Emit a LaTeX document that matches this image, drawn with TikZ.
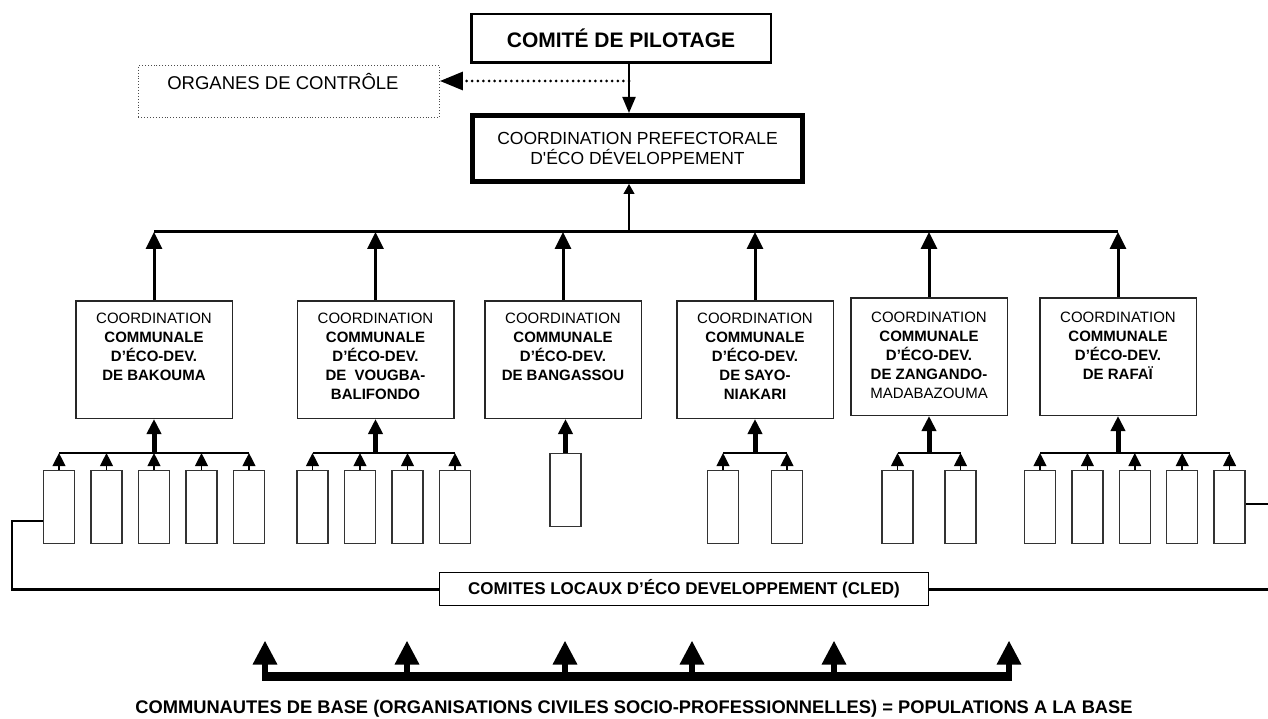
\documentclass[tikz,border=0pt]{standalone}
\usepackage{fontspec}
\setmainfont{Liberation Sans}
\usetikzlibrary{arrows.meta}

% text block of a communal coordination box, top aligned
\newcommand{\commtext}[2][12pt]{%
  \begin{minipage}[t][117.5pt][t]{156.5pt}\centering\vspace*{#1}#2\end{minipage}}

\tikzset{
  comm/.style={draw=black!85, line width=1.5pt, inner sep=0pt, anchor=north,
    font=\fontsize{15}{19.1}\selectfont},
  leaf/.style={draw=black!80, line width=1.4pt, minimum width=31pt,
    minimum height=73pt, inner sep=0pt, anchor=north},
  busline/.style={line width=3pt},
  subbus/.style={line width=1.5pt},
  up/.style={-{Triangle[width=16pt,length=17pt]}, line width=3pt},
  leafup/.style={-{Triangle[width=12.7pt,length=13pt]}, line width=1.5pt},
  thickup/.style={-{Triangle[width=14pt,length=15pt]}, line width=5pt},
  baseup/.style={-{Triangle[width=23pt,length=24pt]}, line width=6pt},
  thinlink/.style={line width=1.5pt},
  thicklink/.style={line width=3pt},
}

\begin{document}
\begin{tikzpicture}[x=1pt,y=-1pt]
\useasboundingbox (0,0) rectangle (1268,719);

% ---------- top of the hierarchy ----------
\node[draw, line width=2.5pt, minimum width=299.5pt, minimum height=48.5pt,
  inner sep=0pt, font=\bfseries\fontsize{21}{24}\selectfont]
  (comite) at (621,38.5) {COMITÉ DE PILOTAGE};

\node[draw=black!70, dotted, line width=0.9pt, anchor=north west,
  minimum width=301pt, minimum height=52pt, inner sep=0pt,
  text height=24.5pt, text depth=27.5pt, font=\fontsize{18.5}{21}\selectfont]
  (organes) at (138,65) {ORGANES DE CONTRÔLE\hspace*{12pt}};

\node[draw, line width=5pt, minimum width=330pt, minimum height=66pt,
  inner sep=0pt, align=center, font=\fontsize{17.5}{20}\selectfont]
  (pref) at (637.5,148.5) {COORDINATION PREFECTORALE\\D\textquotesingle ÉCO DÉVELOPPEMENT};

\coordinate (cx) at (629,0);
\coordinate (split) at (629,81);
\coordinate (topbus) at (0,232);
\coordinate (lowbus) at (0,453);

\draw[line width=2pt, -{Triangle[width=13pt,length=16pt]}]
  (comite.south -| cx) -- (pref.north -| cx);
\draw[line width=3pt, dash pattern=on 0pt off 5.6pt, line cap=round,
  -{Triangle[width=18pt,length=23pt]}]
  (split) -- (organes.east |- split);

% ---------- communal coordinations ----------
\node[comm] (c1) at (154,300) {\commtext{COORDINATION\\\textbf{COMMUNALE}\\\textbf{D’ÉCO-DEV.}\\\textbf{DE BAKOUMA}}};
\node[comm] (c2) at (375.5,300) {\commtext{COORDINATION\\\textbf{COMMUNALE}\\\textbf{D’ÉCO-DEV.}\\\textbf{DE\ \ VOUGBA-}\\\textbf{BALIFONDO}}};
\node[comm] (c3) at (563,300) {\commtext{COORDINATION\\\textbf{COMMUNALE}\\\textbf{D’ÉCO-DEV.}\\\textbf{DE BANGASSOU}}};
\node[comm] (c4) at (755,300) {\commtext{COORDINATION\\\textbf{COMMUNALE}\\\textbf{D’ÉCO-DEV.}\\\textbf{DE SAYO-}\\\textbf{NIAKARI}}};
\node[comm] (c5) at (929,297) {\commtext[14pt]{COORDINATION\\\textbf{COMMUNALE}\\\textbf{D’ÉCO-DEV.}\\\textbf{DE ZANGANDO-}\\MADABAZOUMA}};
\node[comm] (c6) at (1118,297) {\commtext[14pt]{COORDINATION\\\textbf{COMMUNALE}\\\textbf{D’ÉCO-DEV.}\\\textbf{DE RAFAÏ}}};

\draw[busline] (c1.north |- topbus) -- (c6.north |- topbus);
\foreach \i in {1,...,6} \draw[up] (c\i.north) -- (c\i.north |- topbus);
\draw[line width=1.2pt, -{Triangle[width=11pt,length=10pt]}]
  (cx |- topbus) -- (pref.south -| cx);

% ---------- local committees ----------
% Bakouma
\foreach \x [count=\i] in {59,106.5,154,201.5,249}
  \node[leaf] (a\i) at (\x,470) {};
\draw[subbus] (a1 |- lowbus) -- (a5 |- lowbus);
\foreach \i in {1,...,5} \draw[leafup] (a\i.north) -- (a\i |- lowbus);
\draw[thickup] (c1.south |- lowbus) -- (c1.south);
% Vougba-Balifondo
\foreach \x [count=\i] in {312.5,360,407.5,455}
  \node[leaf] (b\i) at (\x,470) {};
\draw[subbus] (b1 |- lowbus) -- (b4 |- lowbus);
\foreach \i in {1,...,4} \draw[leafup] (b\i.north) -- (b\i |- lowbus);
\draw[thickup] (c2.south |- lowbus) -- (c2.south);
% Bangassou
\node[leaf] (g1) at (565.5,453) {};
\draw[thickup] (g1.north) -- (g1.north |- c3.south);
% Sayo-Niakari
\foreach \x [count=\i] in {723,787}
  \node[leaf] (d\i) at (\x,470) {};
\draw[subbus] (d1 |- lowbus) -- (d2 |- lowbus);
\foreach \i in {1,2} \draw[leafup] (d\i.north) -- (d\i |- lowbus);
\draw[thickup] (c4.south |- lowbus) -- (c4.south);
% Zangando-Madabazouma
\foreach \x [count=\i] in {897.5,960.5}
  \node[leaf] (e\i) at (\x,470) {};
\draw[subbus] (e1 |- lowbus) -- (e2 |- lowbus);
\foreach \i in {1,2} \draw[leafup] (e\i.north) -- (e\i |- lowbus);
\draw[thickup] (c5.south |- lowbus) -- (c5.south);
% Rafai
\foreach \x [count=\i] in {1040,1087.4,1134.8,1182.2,1229.6}
  \node[leaf] (f\i) at (\x,470) {};
\draw[subbus] (f1 |- lowbus) -- (f5 |- lowbus);
\foreach \i in {1,...,5} \draw[leafup] (f\i.north) -- (f\i |- lowbus);
\draw[thickup] (c6.south |- lowbus) -- (c6.south);

% ---------- CLED ----------
\node[draw, line width=1.3pt, minimum width=489pt, minimum height=33pt,
  inner sep=0pt, font=\bfseries\fontsize{17}{20}\selectfont]
  (cled) at (684,589) {COMITES LOCAUX D’ÉCO DEVELOPPEMENT (CLED)};

\coordinate (lk) at (12,521);
\coordinate (rk) at (1268,504);
\draw[thinlink] (a1.west |- lk) -- (lk) -- (lk |- cled);
\draw[thicklink] ([xshift=-0.75pt]lk |- cled) -- (cled.west);
\draw[thinlink] (f5.east |- rk) -- (rk);
\draw[thicklink] (cled.east) -- (cled.east -| rk);

% ---------- base communities ----------
\foreach \x [count=\i] in {265,407,565,692,834,1009}
  \coordinate (p\i) at (\x,676.5);
\draw[line width=9pt] ([xshift=-3pt]p1) -- ([xshift=3pt]p6);
\foreach \i in {1,...,6} \draw[baseup] (p\i) -- ++(0,-36);

\node[font=\bfseries\fontsize{18.3}{21}\selectfont] (base) at (634,709)
  {COMMUNAUTES DE BASE (ORGANISATIONS CIVILES SOCIO-PROFESSIONNELLES) = POPULATIONS A LA BASE};
\end{tikzpicture}
\end{document}
